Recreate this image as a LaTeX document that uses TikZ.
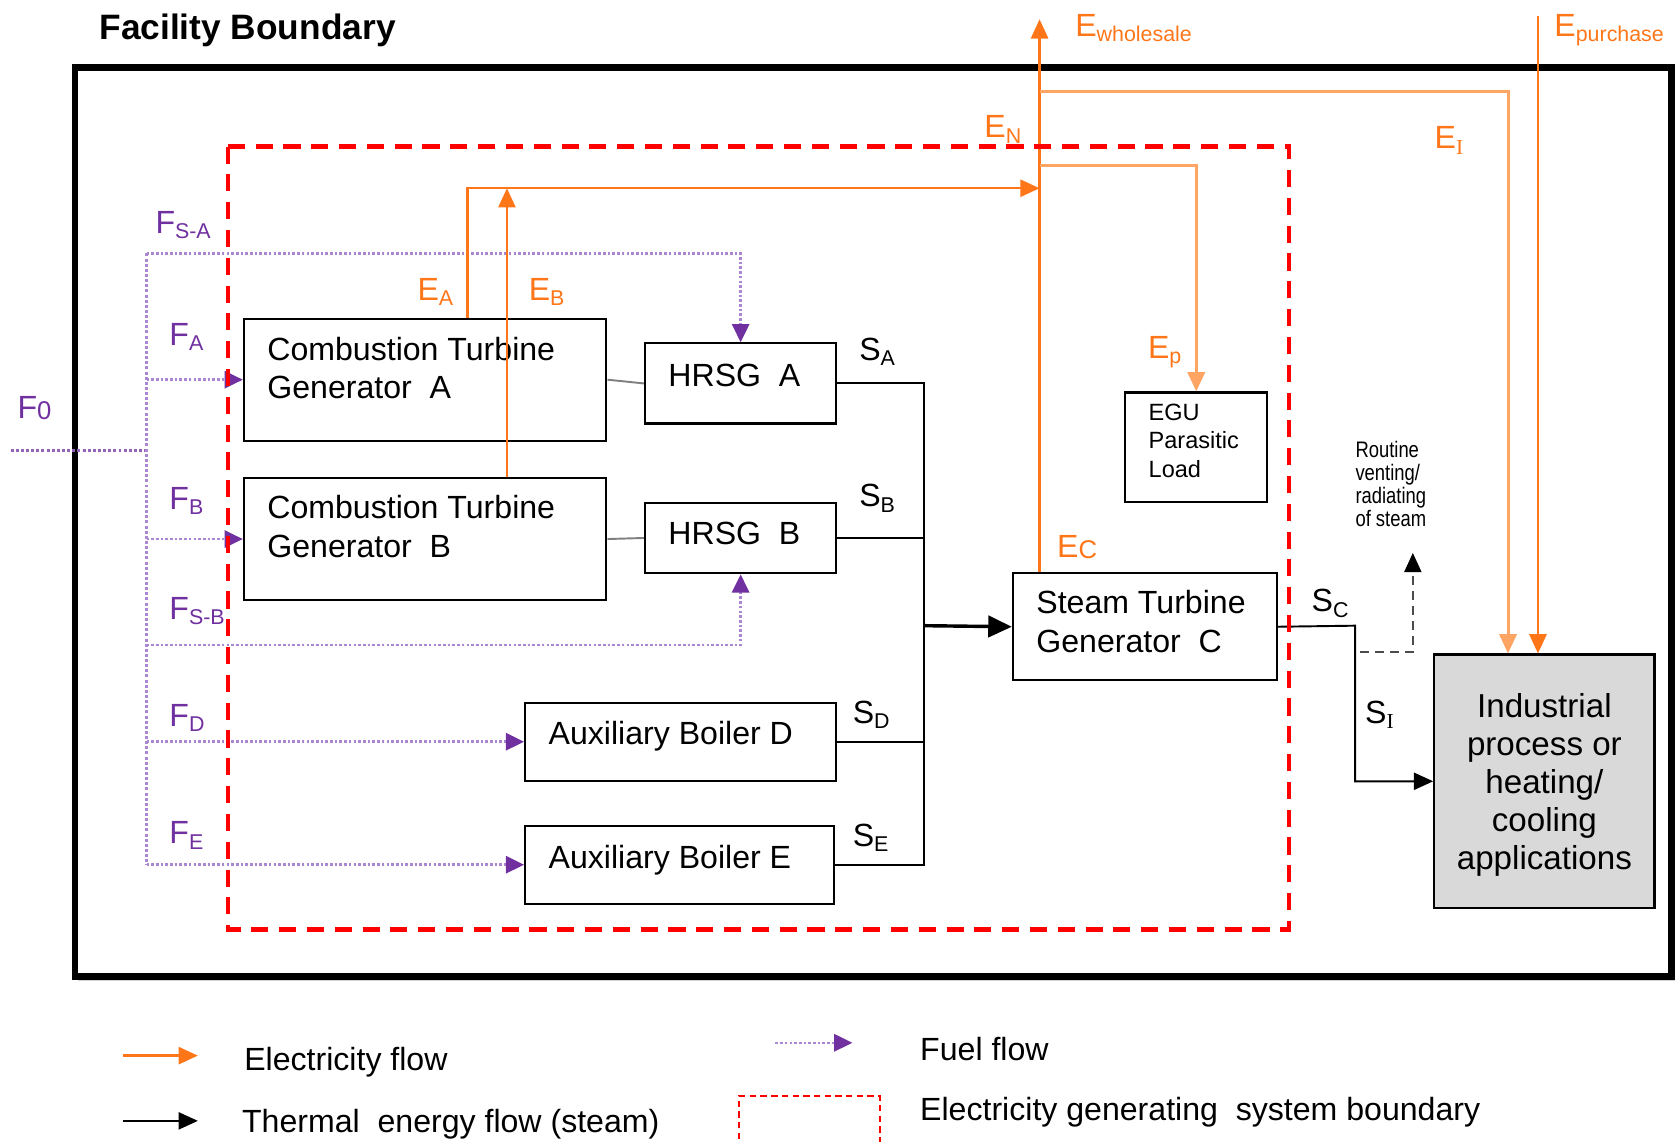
\documentclass[tikz,border=0pt]{standalone}
\usepackage{fontspec}
\setmainfont{Liberation Sans}
\newfontfamily\serifI{Liberation Serif}
\newfontfamily\narrowsans[FakeStretch=0.82]{Liberation Sans}
\usetikzlibrary{arrows.meta,shadows}

\definecolor{ecol}{RGB}{255,118,25}
\definecolor{ecoll}{RGB}{255,165,100}
\definecolor{fcol}{RGB}{112,48,160}
\definecolor{fcoll}{RGB}{170,135,210}
\definecolor{indgray}{RGB}{217,217,217}

% label with lowered index
\newcommand{\lsub}[2]{#1\raisebox{-2.5pt}{\fontsize{10}{12}\selectfont #2}}
\newcommand{\lsml}[2]{#1\raisebox{-0.5pt}{\fontsize{12}{14}\selectfont #2}}
% box text: width, height, indent, baseline from top, lines
\newcommand{\inbox}[5]{\begin{minipage}[t][#2pt][t]{#1pt}\leftskip=#3pt\vspace*{\dimexpr#4pt-12pt\relax}\rule{0pt}{12pt}#5\end{minipage}}

\begin{document}
\begin{tikzpicture}[x=0.5pt,y=-0.5pt,>={Triangle[length=9pt,width=8pt]},
	block/.style={draw,line width=1pt,fill=white,inner sep=0pt,anchor=north west,font=\fontsize{15}{18}\selectfont},
	lbl/.style={anchor=base west,inner sep=0pt,font=\fontsize{15}{18}\selectfont},
	eline/.style={draw=ecol,line width=1.1pt,->},
	eline2/.style={draw=ecoll,line width=1.4pt,->},
	fline/.style={draw=fcoll,line width=1.2pt,densely dotted,-{Triangle[length=8.5pt,width=8pt,color=fcol]}},
	sline/.style={draw=black,line width=0.9pt},
	sysb/.style={draw=red,line width=2pt,dash pattern=on 8pt off 5pt}]
	\useasboundingbox (0,0) rectangle (1568,1067);
	% facility boundary
	\draw[line width=3pt,fill=white,drop shadow={shadow xshift=1.5pt,shadow yshift=-2pt,opacity=0.35}] (70,63) rectangle (1563,913);
	\node[anchor=base west,font=\bfseries\fontsize{16.5}{20}\selectfont] (title) at (86,37) {Facility Boundary};

	% units
	\node[block] (ctga) at (227,297) {\inbox{169.5}{57}{11}{19.5}{Combustion Turbine\\Generator\ \ A}};
	\node[block] (ctgb) at (227,446) {\inbox{169.5}{57}{11}{19}{Combustion Turbine\\Generator\ \ B}};
	\node[block] (hrsga) at (602,320) {\inbox{89.5}{37.5}{11}{20}{HRSG\ \ A}};
	\node[block] (hrsgb) at (602,469) {\inbox{89.5}{33}{11}{19.5}{HRSG\ \ B}};
	\node[block] (auxd) at (490,656) {\inbox{145.5}{36.5}{11}{19.5}{Auxiliary Boiler D}};
	\node[block] (auxe) at (490,771) {\inbox{144.5}{36.5}{11}{20}{Auxiliary Boiler E}};
	\node[block] (stgc) at (946,535) {\inbox{123.5}{50}{11}{19}{Steam Turbine\\Generator\ \ C}};
	\node[block,font=\fontsize{11}{13.25}\selectfont] (egu) at (1051,366) {\inbox{66.5}{51}{11}{13}{EGU\\Parasitic\\Load}};
	\node[block,fill=indgray,font=\fontsize{15.5}{17.75}\selectfont] (ind) at (1340,611) {\inbox{103}{118.5}{0}{29.5}{\centering Industrial\\process or\\heating/\\cooling\\applications}};
	\node[anchor=north west,inner sep=0pt,align=left,font=\narrowsans\fontsize{10.5}{10.85}\selectfont] (vtxt) at (1267,412) {Routine\\venting/\\radiating\\of steam};

	% steam
	\coordinate (sj) at (864,585);
	\coordinate (sc) at (1267,585);
	\coordinate (vs) at (1272,610);
	\coordinate (vt) at (1321,517);
	\draw[gray,line width=0.9pt] (ctga.east) -- (hrsga.west);
	\draw[gray,line width=0.9pt] (ctgb.east) -- (hrsgb.west);
	\draw[sline] (hrsga.east) -| (sj);
	\draw[sline] (hrsgb.east) -| (sj);
	\draw[sline] (auxd.east) -| (sj);
	\draw[sline] (auxe.east) -| (sj);
	\draw[sline,line width=1.6pt,-{Triangle[length=11pt,width=10pt]}] (sj) -- (stgc.west);
	\draw[sline,->] (stgc.east) -- (sc) |- (ind.west);
	\draw[black!70,line width=0.9pt,dash pattern=on 4pt off 3pt,-{Triangle[length=9pt,width=8pt,color=black]}] (vs) -| (vt);

	% fuel
	\coordinate (f0) at (10,421);
	\coordinate (ft) at (137,421);
	\coordinate (fsa) at (137,237);
	\coordinate (fsb) at (137,603);
	\draw[fcol!75,line width=1.4pt,densely dotted] (f0) -- (ft);
	\draw[fcoll,line width=1.4pt,densely dotted] (fsa) -- (ft |- auxe.west);
	\draw[fline] (fsa) -| (hrsga.north);
	\draw[fline] (ft |- ctga.west) -- (ctga.west);
	\draw[fline] (ft |- ctgb.west) -- (ctgb.west);
	\draw[fline] (fsb) -| (hrsgb.south);
	\draw[fline] (ft |- auxd.west) -- (auxd.west);
	\draw[fline] (ft |- auxe.west) -- (auxe.west);

	% electricity
	\coordinate (enj) at (972,176);
	\coordinate (ew) at (972,18);
	\coordinate (np) at (972,155);
	\coordinate (ni) at (972,86);
	\coordinate (ep) at (1438,15);
	\draw[eline] ([xshift=105pt]ctga.north west) |- (enj);
	\draw[eline] ([xshift=123.5pt]ctgb.north west) -- ++(0,-270);
	\draw[eline] ([xshift=13pt]stgc.north west) -- (ew);
	\draw[eline2] (np) -| (egu.north);
	\draw[eline2] (ni) -| ([xshift=35pt]ind.north west);
	\draw[eline] (ep) -- ([xshift=49pt]ind.north west);

	% generating system boundary
	\draw[sysb] (213,137) rectangle (1205,869);

	% labels
	\node[lbl,text=fcol] (lf0) at (16,391) {\lsml{F}{0}};
	\node[lbl,text=fcol] (lfsa) at (145,218) {\lsub{F}{S-A}};
	\node[lbl,text=fcol] (lfa) at (158,323) {\lsub{F}{A}};
	\node[lbl,text=fcol] (lfb) at (158,476) {\lsub{F}{B}};
	\node[lbl,text=fcol] (lfsb) at (158,579) {\lsub{F}{S-B}};
	\node[lbl,text=fcol] (lfd) at (158,679) {\lsub{F}{D}};
	\node[lbl,text=fcol] (lfe) at (158,789) {\lsub{F}{E}};
	\node[lbl,text=ecol] (lew) at (1005,34) {\lsub{E}{wholesale}};
	\node[lbl,text=ecol] (lep) at (1453,34) {\lsub{E}{purchase}};
	\node[lbl,text=ecol] (len) at (920,129) {\lsub{E}{N}};
	\node[lbl,text=ecol] (lea) at (390,281) {\lsub{E}{A}};
	\node[lbl,text=ecol] (leb) at (494,281) {\lsub{E}{B}};
	\node[lbl,text=ecol] (lec) at (988,521) {\lsml{E}{C}};
	\node[lbl,text=ecol] (lepp) at (1073,335) {\lsub{E}{p}};
	\node[lbl,text=ecol] (lei) at (1341,139) {\lsub{E}{\serifI I}};
	\node[lbl] (lsa) at (803,337) {\lsub{S}{A}};
	\node[lbl] (lsb) at (803,474) {\lsub{S}{B}};
	\node[lbl] (lsc) at (1226,572) {\lsub{S}{C}};
	\node[lbl] (lsd) at (797,676) {\lsub{S}{D}};
	\node[lbl] (lse) at (797,791) {\lsub{S}{E}};
	\node[lbl] (lsi) at (1276,676) {\lsub{S}{\serifI I}};

	% legend
	\coordinate (la1) at (115,987);
	\coordinate (la2) at (185,987);
	\coordinate (lb1) at (115,1048);
	\coordinate (lb2) at (185,1048);
	\coordinate (lc1) at (725,975);
	\coordinate (lc2) at (797,975);
	\draw[eline] (la1) -- (la2);
	\draw[sline,->] (lb1) -- (lb2);
	\draw[fline] (lc1) -- (lc2);
	\draw[red,line width=1pt,dash pattern=on 3pt off 2pt] (691,1075) |- (823,1025) -- (823,1075);
	\node[lbl] (lt1) at (228,1001) {Electricity flow};
	\node[lbl] (lt2) at (226,1059) {Thermal\ \ energy flow (steam)};
	\node[lbl] (lt3) at (860,992) {Fuel flow};
	\node[lbl] (lt4) at (860,1048) {Electricity generating\ \ system boundary};
\end{tikzpicture}
\end{document}
